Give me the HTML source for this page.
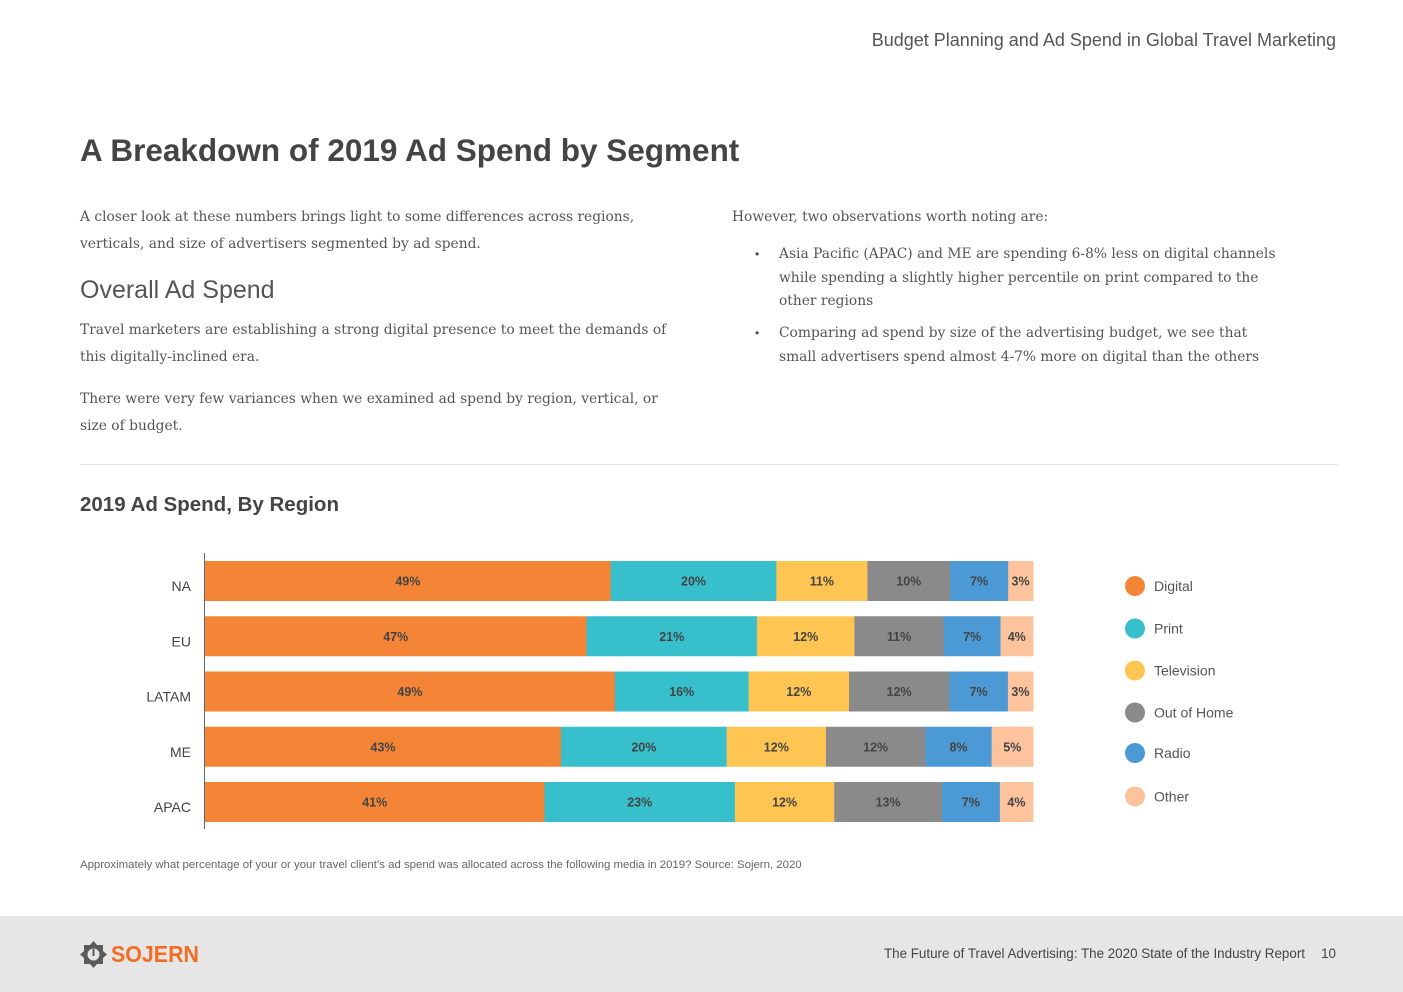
<!DOCTYPE html>
<html><head><meta charset="utf-8">
<style>
body{margin:0;width:1403px;height:992px;background:#fff;position:relative;overflow:hidden;font-family:"Liberation Sans",sans-serif;color:#444}
.abs{position:absolute}
.body{font-family:"DejaVu Serif","Liberation Serif",serif;font-size:13.8px;color:#555;line-height:26.5px}
</style></head><body>
<div class="abs" style="right:67px;top:30px;font-size:18px;color:#555">Budget Planning and Ad Spend in Global Travel Marketing</div>
<div class="abs" style="left:80px;top:132px;font-size:31.5px;font-weight:bold;color:#444">A Breakdown of 2019 Ad Spend by Segment</div>
<div class="abs body" style="left:80px;top:204px;width:600px">A closer look at these numbers brings light to some differences across regions, verticals, and size of advertisers segmented by ad spend.</div>
<div class="abs" style="left:80px;top:276px;font-size:25px;color:#555">Overall Ad Spend</div>
<div class="abs body" style="left:80px;top:317px;width:600px">Travel marketers are establishing a strong digital presence to meet the demands of this digitally-inclined era.</div>
<div class="abs body" style="left:80px;top:386px;width:600px">There were very few variances when we examined ad spend by region, vertical, or size of budget.</div>
<div class="abs body" style="left:732px;top:204px">However, two observations worth noting are:</div>
<div class="abs body" style="left:779px;top:243px;width:500px;line-height:23.5px">Asia Pacific (APAC) and ME are spending 6-8% less on digital channels while spending a slightly higher percentile on print compared to the other regions</div>
<div class="abs body" style="left:779px;top:322px;width:500px;line-height:23.5px">Comparing ad spend by size of the advertising budget, we see that small advertisers spend almost 4-7% more on digital than the others</div>
<div class="abs" style="left:755px;top:247px;font-size:12px">•</div>
<div class="abs" style="left:755px;top:326px;font-size:12px">•</div>
<div class="abs" style="left:80px;top:464px;width:1258px;height:1px;background:#e3e3e3"></div>
<div class="abs" style="left:80px;top:493px;font-size:20.5px;font-weight:bold;color:#444">2019 Ad Spend, By Region</div>
<svg class="abs" style="left:0;top:0" width="1403" height="992" id="chart"></svg>
<div class="abs" style="left:80px;top:859px;font-size:11.4px;color:#666">Approximately what percentage of your or your travel client’s ad spend was allocated across the following media in 2019? Source: Sojern, 2020</div>
<div class="abs" style="left:0;top:916px;width:1403px;height:76px;background:#e6e6e6"></div>
<svg class="abs" style="left:80px;top:941px" width="27" height="27" viewBox="0 0 27 27"><polygon points="13.5,0 17,4 23,4 23,10 27,13.5 23,17 23,23 17,23 13.5,27 10,23 4,23 4,17 0,13.5 4,10 4,4 10,4" fill="#5a5a5a"/><circle cx="13.5" cy="13.5" r="6" fill="#e6e6e6"/><rect x="12.5" y="8" width="2" height="7" fill="#5a5a5a"/></svg>
<div class="abs" style="left:111px;top:941px;font-size:23px;font-weight:bold;color:#f26d21;transform:scaleX(0.93);transform-origin:left">SOJERN</div>
<div class="abs" style="right:98px;top:946px;font-size:13.4px;color:#444">The Future of Travel Advertising: The 2020 State of the Industry Report</div>
<div class="abs" style="right:67px;top:946px;font-size:13.4px;color:#444">10</div>
<script>
const categories=["NA","EU","LATAM","ME","APAC"];
const seriesNames=["Digital","Print","Television","Out of Home","Radio","Other"];
const digital=[49,47,49,43,41];
const print=[20,21,16,20,23];
const television=[11,12,12,12,12];
const outOfHome=[10,11,12,12,13];
const radio=[7,7,7,8,7];
const other=[3,4,3,5,4];
const colors=["#f58536","#37bfcb","#fec553","#8a8a8a","#4b9ad6","#fcc39c"];
const series=[digital,print,television,outOfHome,radio,other];
const svg=document.getElementById('chart');
const NS="http://www.w3.org/2000/svg";
const x0=205,plotW=828,y0=561,step=55.25,barH=40;
function xScale(v,total){return v/total*plotW;}
function yScale(i){return y0+i*step;}
function mk(t,a){const e=document.createElementNS(NS,t);for(const k in a)e.setAttribute(k,a[k]);svg.appendChild(e);return e;}
const axis=mk('line',{x1:204.5,x2:204.5,y1:553,y2:829,stroke:'#666','stroke-width':1});


categories.forEach((c,i)=>{
  const total=series.reduce((s,a)=>s+a[i],0);
  let x=x0;const y=yScale(i);
  const lab=mk('text',{x:191,y:y+barH/2+10,'text-anchor':'end','font-size':14,fill:'#444','font-family':'Liberation Sans'});
  lab.textContent=c;
  
  
  series.forEach((arr,s)=>{
    const w=xScale(arr[i],total);
    const r=mk('rect',{x:x,y:y,width:w+0.5,height:barH,fill:colors[s]});
    
    
    const t=mk('text',{x:x+w/2,y:y+barH/2+4.5,'text-anchor':'middle','font-size':12.5,'font-weight':'bold',fill:'#444','font-family':'Liberation Sans'});
    t.textContent=arr[i]+'%';
    
    
    x+=w;
  });
});
const legY=[586,628.5,670.5,712.5,753,796.5];
seriesNames.forEach((n,s)=>{
  const c=mk('circle',{cx:1135,cy:legY[s],r:10,fill:colors[s]});
  
  
  const t=mk('text',{x:1154,y:legY[s]+5,'font-size':14,fill:'#555','font-family':'Liberation Sans'});
  t.textContent=n;
  
  
});
</script>
</body></html>
